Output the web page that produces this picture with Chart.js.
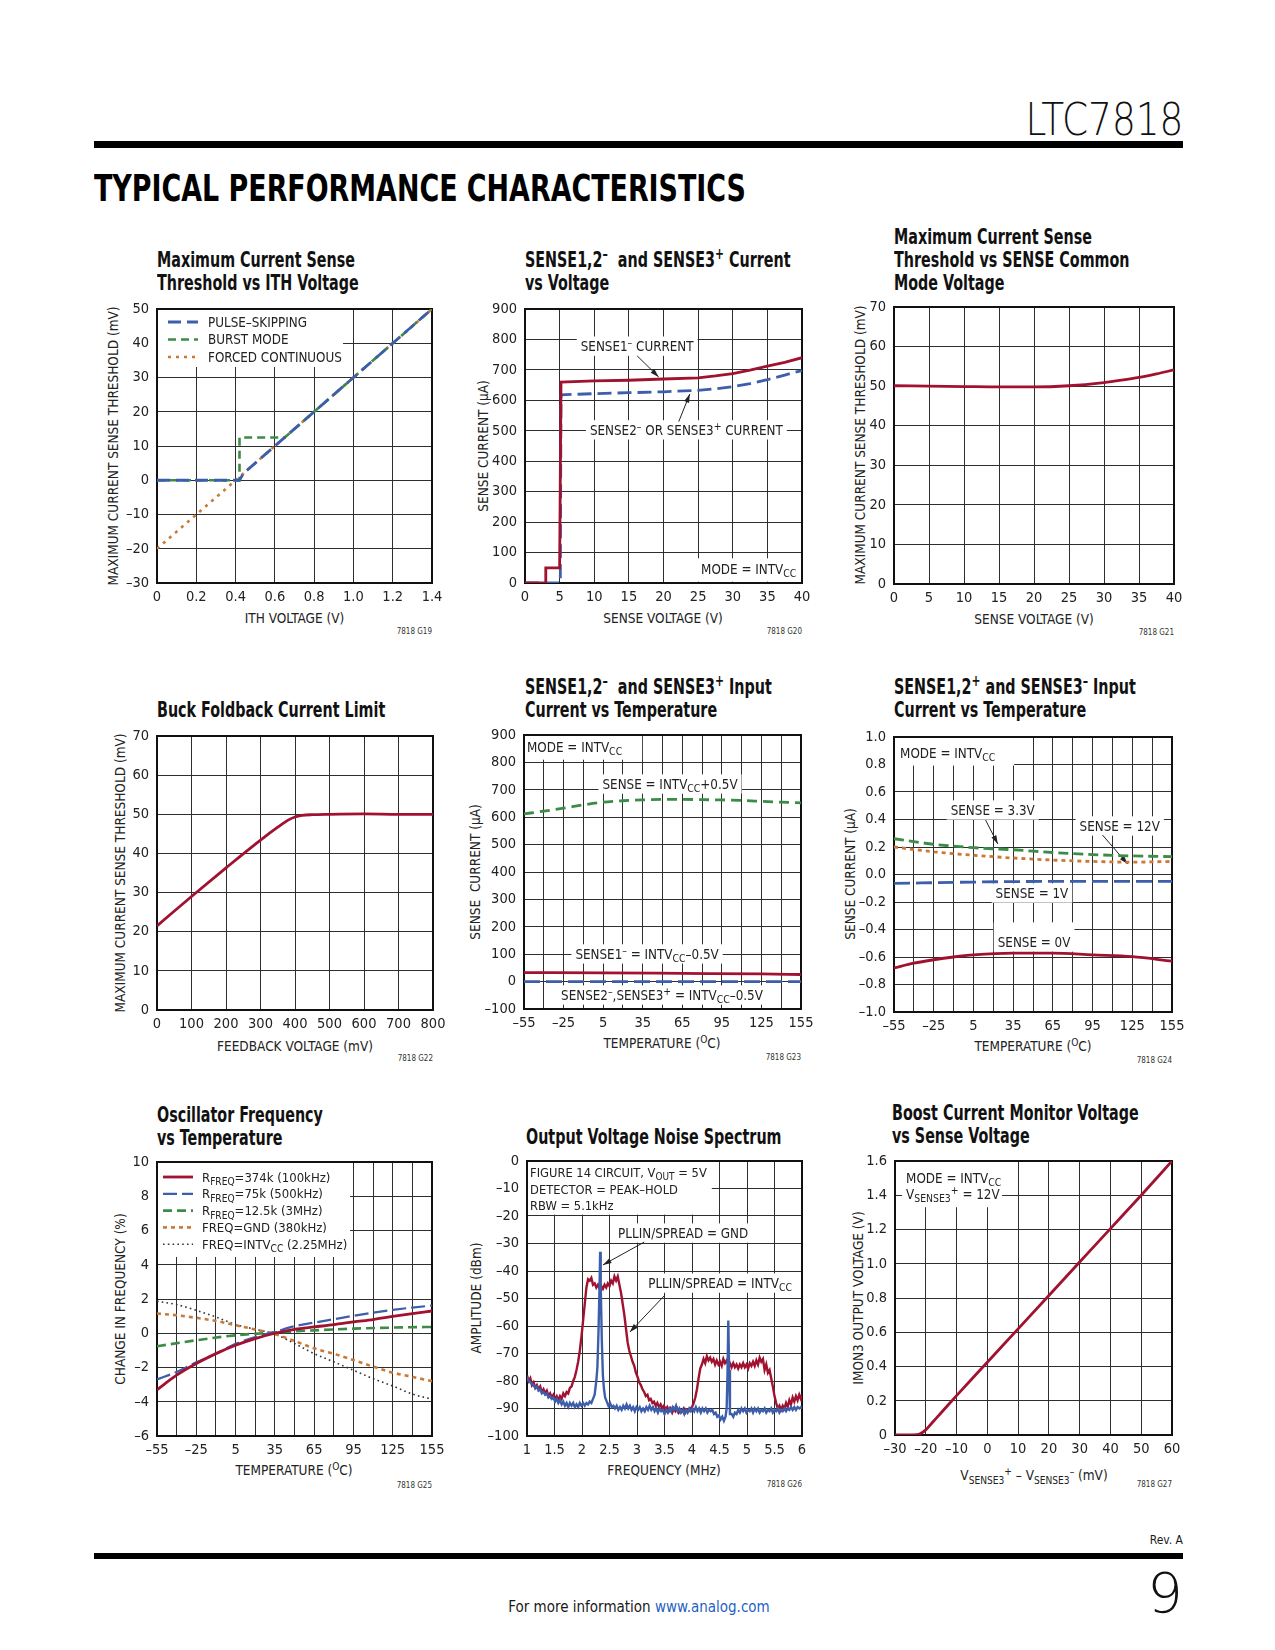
<!DOCTYPE html>
<html><head><meta charset="utf-8">
<script src="https://cdn.jsdelivr.net/npm/chart.js@4.4.0/dist/chart.umd.min.js"></script>
<style>
html,body{margin:0;padding:0;overflow:hidden;background:#fff;}
#page{position:relative;width:1275px;height:1650px;overflow:hidden;background:#fff;font-family:'Liberation Sans Narrow','Arial Narrow','DejaVu Sans Condensed',sans-serif;color:#1a1a1a;}
.abs{position:absolute;white-space:nowrap;}
canvas{position:absolute;}
.ct{font-weight:bold;font-size:20.5px;line-height:23px;color:#111;transform-origin:left top;}
sub,sup{font-size:75%;line-height:0;}
</style></head><body><div id="page"></div>
<script>
// ---------------- DATA ----------------
// Chart 1: Maximum Current Sense Threshold vs ITH Voltage
const c1XTicks=[0,0.2,0.4,0.6,0.8,1.0,1.2,1.4];
const c1YTicks=[-30,-20,-10,0,10,20,30,40,50];
const c1PulseX=[0,0.42,0.44,1.4];
const c1PulseY=[0,0,2,50];
const c1BurstX=[0,0.42,0.42,0.65,1.4];
const c1BurstY=[0,0,12.5,12.5,50];
const c1ForcedX=[0,1.4];
const c1ForcedY=[-20,50];

// Chart 2: SENSE current vs voltage
const c2XTicks=[0,5,10,15,20,25,30,35,40];
const c2YTicks=[0,100,200,300,400,500,600,700,800,900];
const c2RedX=[0,2.9,3,5,5.2,10,15,20,25,27.5,30,32.5,35,37.5,40];
const c2RedY=[0,0,50,50,660,664,666,670,674,680,688,699,712,725,740];
const c2BlueX=[0,5.1,5.2,10,15,20,25,27.5,30,32.5,35,37.5,40];
const c2BlueY=[0,0,618,622,625,628,633,638,645,655,668,683,698];

// Chart 3: threshold vs common mode
const c3XTicks=[0,5,10,15,20,25,30,35,40];
const c3YTicks=[0,10,20,30,40,50,60,70];
const c3X=[0,5,10,15,20,25,30,32.5,35,37.5,40];
const c3Y=[50.1,50,49.9,49.8,49.8,50.1,50.9,51.5,52.2,53.1,54.1];

// Chart 4: Buck foldback
const c4XTicks=[0,100,200,300,400,500,600,700,800];
const c4YTicks=[0,10,20,30,40,50,60,70];
const c4X=[0,100,200,300,350,380,400,420,450,500,600,700,800];
const c4Y=[21.5,29,36.3,43.4,46.7,48.5,49.3,49.7,49.9,50,50.1,50,50];

// Chart 5: SENSE- input current vs temperature
const tempTicks=[-55,-40,-25,-10,5,20,35,50,65,80,95,110,125,140,155];
const tempLabels=[-55,-25,5,35,65,95,125,155];
const c5YTicks=[-100,0,100,200,300,400,500,600,700,800,900];
const c5GreenX=[-55,-40,-25,-10,5,20,35,50,65,80,95,110,125,140,155];
const c5GreenY=[612,622,633,645,655,660,663,665,665,664,663,661,658,655,652];
const c5RedX=[-55,5,65,125,155];
const c5RedY=[33,32,30,28,26];
const c5BlueX=[-55,155];
const c5BlueY=[0,0];

// Chart 6: SENSE+ input current vs temperature
const c6YTicks=[-1,-0.8,-0.6,-0.4,-0.2,0,0.2,0.4,0.6,0.8,1.0];
const c6X=[-55,-25,5,35,65,95,125,155];
const c6Green=[0.26,0.22,0.195,0.18,0.16,0.145,0.135,0.13];
const c6Orange=[0.2,0.165,0.14,0.12,0.105,0.095,0.09,0.095];
const c6BlueX=[-55,5,65,155];
const c6Blue=[-0.065,-0.055,-0.05,-0.05];
const c6RedX=[-55,-40,-25,-10,5,35,65,95,125,155];
const c6Red=[-0.68,-0.645,-0.62,-0.6,-0.585,-0.572,-0.572,-0.585,-0.598,-0.63];

// Chart 7: oscillator frequency vs temperature
const c7YTicks=[-6,-4,-2,0,2,4,6,8,10];
const c7X=[-55,-40,-25,-10,5,20,35,50,65,80,95,110,125,140,155];
const c7R374=[-3.3,-2.45,-1.77,-1.19,-0.7,-0.31,0,0.23,0.37,0.5,0.66,0.8,0.98,1.15,1.3];
const c7R75=[-2.7,-2.26,-1.7,-1.19,-0.62,-0.22,0.08,0.41,0.62,0.82,1.02,1.2,1.36,1.5,1.62];
const c7GX=[-55,-25,5,35,65,95,125,155];
const c7R12=[-0.76,-0.41,-0.12,0.04,0.17,0.27,0.33,0.37];
const c7Gnd=[1.15,1.05,0.9,0.72,0.47,0.22,-0.05,-0.45,-0.88,-1.2,-1.56,-1.95,-2.3,-2.55,-2.8];
const c7Intv=[1.87,1.67,1.34,0.95,0.51,0.23,-0.05,-0.6,-1.19,-1.67,-2.16,-2.65,-3.08,-3.55,-3.85];

// Chart 8: output voltage noise spectrum [MHz, dBm]
const c8XTicks=[1,1.5,2,2.5,3,3.5,4,4.5,5,5.5,6];
const c8YTicks=[-100,-90,-80,-70,-60,-50,-40,-30,-20,-10,0];
const c8Spread=[[1.00,-78],[1.03,-80],[1.06,-79],[1.09,-81.5],[1.12,-80.5],[1.15,-82.5],[1.18,-81.5],[1.21,-83],[1.24,-82],[1.27,-84],[1.30,-83],[1.33,-84.5],[1.36,-83.5],[1.39,-85.5],[1.42,-84.5],[1.45,-86],[1.48,-85],[1.51,-86.5],[1.54,-85.5],[1.57,-87],[1.60,-85.5],[1.63,-86.5],[1.66,-84.5],[1.69,-85.5],[1.72,-84],[1.75,-84.5],[1.78,-82.5],[1.81,-82],[1.84,-80],[1.87,-78.5],[1.90,-76],[1.93,-73],[1.96,-69],[1.99,-64],[2.02,-58],[2.05,-52],[2.08,-46],[2.11,-43],[2.14,-43.5],[2.17,-42.5],[2.20,-45],[2.23,-44.5],[2.26,-46],[2.29,-45],[2.32,-46.5],[2.35,-45.5],[2.38,-46.5],[2.41,-45],[2.44,-46],[2.47,-44.5],[2.50,-45.5],[2.53,-43.5],[2.56,-44.5],[2.59,-42],[2.62,-43.5],[2.65,-42],[2.68,-45],[2.71,-48],[2.74,-52],[2.77,-56],[2.80,-61],[2.83,-66],[2.86,-69],[2.89,-71],[2.92,-73],[2.95,-74.5],[2.98,-77],[3.01,-78.5],[3.04,-80.5],[3.07,-81.5],[3.10,-83],[3.13,-84],[3.16,-85.5],[3.19,-85],[3.22,-87],[3.25,-86.5],[3.28,-88],[3.31,-87.5],[3.34,-89],[3.37,-88],[3.40,-89.5],[3.43,-88.5],[3.46,-90],[3.49,-89],[3.52,-90.5],[3.55,-89.5],[3.58,-91],[3.61,-90],[3.64,-91.5],[3.67,-90],[3.70,-91],[3.73,-90],[3.76,-91.5],[3.79,-90.5],[3.82,-91],[3.85,-90],[3.88,-91.5],[3.91,-90.5],[3.94,-91],[3.97,-90],[4.00,-89.5],[4.03,-88],[4.06,-86],[4.09,-83],[4.12,-79],[4.15,-75.5],[4.18,-74],[4.21,-72],[4.24,-73.5],[4.27,-71],[4.30,-72.5],[4.33,-71.5],[4.36,-73],[4.39,-72],[4.42,-74],[4.45,-72.5],[4.48,-74],[4.51,-73],[4.54,-74.5],[4.57,-72],[4.60,-73.5],[4.63,-72.5],[4.66,-74],[4.69,-73.5],[4.72,-75],[4.75,-73.5],[4.78,-75],[4.81,-74],[4.84,-75.5],[4.87,-74],[4.90,-75],[4.93,-73.5],[4.96,-75],[4.99,-74],[5.02,-75.5],[5.05,-73.5],[5.08,-74.5],[5.11,-73],[5.14,-74.5],[5.17,-72.5],[5.20,-74],[5.23,-71.5],[5.26,-73],[5.29,-72],[5.32,-76],[5.35,-74],[5.38,-77],[5.41,-76],[5.44,-79],[5.47,-82],[5.50,-85.5],[5.53,-88],[5.56,-90],[5.59,-89],[5.62,-90.5],[5.65,-89],[5.68,-90],[5.71,-88],[5.74,-89.5],[5.77,-87],[5.80,-88.5],[5.83,-86],[5.86,-87.5],[5.89,-85.5],[5.92,-87],[5.95,-85],[5.98,-86.5],[6.00,-85]];
const c8Gnd=[[1.00,-78.5],[1.03,-80],[1.06,-80.5],[1.09,-81],[1.12,-81.5],[1.15,-82.5],[1.18,-82],[1.21,-83.5],[1.24,-83],[1.27,-84.5],[1.30,-84],[1.33,-85],[1.36,-84.5],[1.39,-86],[1.42,-85.5],[1.45,-86.5],[1.48,-86],[1.51,-87.5],[1.54,-86.5],[1.57,-88],[1.60,-87],[1.63,-88.5],[1.66,-87.5],[1.69,-89],[1.72,-88],[1.75,-89.5],[1.78,-88],[1.81,-89],[1.84,-88],[1.87,-89.5],[1.90,-88.5],[1.93,-89.5],[1.96,-88],[1.99,-89],[2.02,-88],[2.05,-89],[2.08,-88],[2.11,-88.5],[2.14,-87.5],[2.17,-88],[2.20,-86.5],[2.23,-85],[2.26,-80],[2.28,-75],[2.30,-62],[2.32,-45],[2.33,-33],[2.34,-45],[2.36,-65],[2.38,-78],[2.40,-83],[2.42,-86],[2.45,-87.5],[2.48,-89],[2.51,-88],[2.54,-89.5],[2.57,-89],[2.60,-90],[2.63,-89],[2.66,-90.5],[2.69,-89.5],[2.72,-90.5],[2.75,-89],[2.78,-90],[2.81,-88.5],[2.84,-90],[2.87,-89],[2.90,-90.5],[2.93,-89.5],[2.96,-91],[2.99,-89.5],[3.02,-90.5],[3.05,-89.5],[3.08,-91],[3.11,-90],[3.14,-91],[3.17,-89.5],[3.20,-90.5],[3.23,-89],[3.26,-90.5],[3.29,-89.5],[3.32,-91],[3.35,-90],[3.38,-91.5],[3.41,-90],[3.44,-91],[3.47,-90.5],[3.50,-92],[3.53,-90.5],[3.56,-91.5],[3.59,-90],[3.62,-91],[3.65,-89.5],[3.68,-90.5],[3.71,-89],[3.74,-91],[3.77,-90],[3.80,-91.5],[3.83,-90.5],[3.86,-92],[3.89,-90.5],[3.92,-91.5],[3.95,-90],[3.98,-91],[4.01,-90],[4.04,-91],[4.07,-89.5],[4.10,-91],[4.13,-90],[4.16,-91.5],[4.19,-90],[4.22,-91],[4.25,-90],[4.28,-91.5],[4.31,-90.5],[4.34,-91],[4.37,-90.5],[4.40,-92],[4.43,-91.5],[4.46,-93],[4.49,-92.5],[4.52,-94],[4.55,-93],[4.58,-94.5],[4.61,-93],[4.63,-90],[4.645,-78],[4.66,-58],[4.675,-76],[4.69,-92],[4.72,-92],[4.75,-93],[4.78,-91.5],[4.81,-92],[4.84,-90.5],[4.87,-91.5],[4.90,-90],[4.93,-91],[4.96,-90],[4.99,-91.5],[5.02,-90.5],[5.05,-91],[5.08,-90],[5.11,-91.5],[5.14,-90],[5.17,-91],[5.20,-90],[5.23,-91.5],[5.26,-90.5],[5.29,-91],[5.32,-90],[5.35,-91.5],[5.38,-90.5],[5.41,-91],[5.44,-90],[5.47,-91.5],[5.50,-90.5],[5.53,-91],[5.56,-90],[5.59,-91.5],[5.62,-90.5],[5.65,-91],[5.68,-90],[5.71,-91],[5.74,-90],[5.77,-90.5],[5.80,-89.5],[5.83,-90.5],[5.86,-89.5],[5.89,-90.5],[5.92,-89.5],[5.95,-90],[5.98,-89.5],[6.00,-90]];

// Chart 9: boost current monitor
const c9XTicks=[-30,-20,-10,0,10,20,30,40,50,60];
const c9YTicks=[0,0.2,0.4,0.6,0.8,1.0,1.2,1.4,1.6];
const c9X=[-30,-24,-22,-20,-18,-15,-10,0,10,20,30,40,50,60];
const c9Y=[0,0,0.005,0.03,0.07,0.13,0.23,0.425,0.62,0.815,1.01,1.205,1.4,1.6];

// ---------------- RENDERING ----------------
const RED='#a0122f', BLUE='#3d5eab', GREEN='#3b8c47', ORANGE='#c97a38', DOT='#333';
const FAM="'Liberation Sans Narrow','Arial Narrow','DejaVu Sans Condensed',sans-serif";
const LBL=13.3;
Chart.defaults.font.family=FAM;
Chart.defaults.color='#222';
const page=document.getElementById('page');
const L=70,T=26,R=30,B=34;

function xy(xs,ys){return xs.map((x,i)=>({x:x,y:ys[i]}));}
function pairs(a){return a.map(p=>({x:p[0],y:p[1]}));}
function dash(v){return v<0?'–'+Math.abs(v):String(v);}

function segs(s){const out=[];let i=0,buf='';
  while(i<s.length){
    if((s[i]==='_'||s[i]==='^')&&s[i+1]==='{'){ if(buf){out.push({t:buf,m:0});buf='';}
      const j=s.indexOf('}',i); out.push({t:s.slice(i+2,j),m:s[i]==='_'?1:2}); i=j+1; }
    else {buf+=s[i];i++;}
  }
  if(buf)out.push({t:buf,m:0}); return out;}
function richWidth(ctx,s,size){let w=0;segs(s).forEach(g=>{ctx.font=(g.m?size*0.78:size)+'px '+FAM;w+=ctx.measureText(g.t).width;});return w;}
function drawRich(ctx,s,x,cy,size,color){
  ctx.fillStyle=color;ctx.textBaseline='alphabetic';ctx.textAlign='left';
  const base=cy+size*0.36;let cx=x;
  segs(s).forEach(g=>{const fs=g.m?size*0.78:size;ctx.font=fs+'px '+FAM;
    const by=g.m===1?base+size*0.26:g.m===2?base-size*0.38:base;
    ctx.fillText(g.t,cx,by);cx+=ctx.measureText(g.t).width;});
}

const decoPlugin={id:'deco',
  beforeDatasetsDraw(chart){
    const o=chart.config.options.plugins.deco; if(!o) return;
    const ctx=chart.ctx, xs=chart.scales.x, ys=chart.scales.y, ca=chart.chartArea;
    const X=v=>xs.getPixelForValue(v), Y=v=>ys.getPixelForValue(v);
    ctx.save();
    (o.boxes||[]).forEach(b=>{const x1=X(b.x1),x2=X(b.x2),y1=Y(b.y1),y2=Y(b.y2);
      ctx.fillStyle='#fff';ctx.fillRect(Math.min(x1,x2),Math.min(y1,y2),Math.abs(x2-x1),Math.abs(y2-y1));});
    (o.labels||[]).forEach(l=>{
      const size=l.size||LBL, px=X(l.x), py=Y(l.y), w=richWidth(ctx,l.text,size);
      const al=l.align||'center'; const x0=al==='center'?px-w/2:(al==='right'?px-w:px);
      if(!l.nobox){const p=l.pad||[4,4,3,3];ctx.fillStyle='#fff';
        ctx.fillRect(x0-p[0],py-size*0.5-p[2],w+p[0]+p[1],size+p[2]+p[3]);}
      drawRich(ctx,l.text,x0,py,size,'#222');
    });
    (o.arrows||[]).forEach(a=>{const x1=X(a.x1),y1=Y(a.y1),x2=X(a.x2),y2=Y(a.y2);
      ctx.strokeStyle='#222';ctx.lineWidth=1;ctx.setLineDash([]);
      ctx.beginPath();ctx.moveTo(x1,y1);ctx.lineTo(x2,y2);ctx.stroke();
      const ang=Math.atan2(y2-y1,x2-x1),hl=9,hw=0.3;ctx.fillStyle='#222';
      ctx.beginPath();ctx.moveTo(x2,y2);
      ctx.lineTo(x2-hl*Math.cos(ang-hw),y2-hl*Math.sin(ang-hw));
      ctx.lineTo(x2-hl*Math.cos(ang+hw),y2-hl*Math.sin(ang+hw));ctx.closePath();ctx.fill();});
    if(o.legend){const g=o.legend;ctx.fillStyle='#fff';ctx.fillRect(ca.left,ca.top,g.w,g.h);
      chart.data.datasets.forEach((d,i)=>{const y=ca.top+g.row0+i*g.rowH;
        ctx.strokeStyle=d.borderColor;ctx.lineWidth=d.borderWidth;ctx.setLineDash(d.borderDash||[]);ctx.lineCap='butt';
        ctx.beginPath();ctx.moveTo(ca.left+g.s1,y);ctx.lineTo(ca.left+g.s2,y);ctx.stroke();ctx.setLineDash([]);
        drawRich(ctx,d.label,ca.left+g.tx,y,g.size,'#222');});}
    ctx.strokeStyle='#111';ctx.lineWidth=2;ctx.setLineDash([]);
    ctx.strokeRect(ca.left,ca.top,ca.right-ca.left,ca.bottom-ca.top);
    ctx.restore();
  }};
Chart.register(decoPlugin);

function axisCfg(ticks,fmt,which){
  return {type:'linear',min:ticks[0],max:ticks[ticks.length-1],
    afterBuildTicks:s=>{s.ticks=ticks.map(v=>({value:v}));},
    afterFit:s=>{if(which==='x')s.height=B;else s.width=L;},
    ticks:{autoSkip:false,maxRotation:0,minRotation:0,padding:which==='x'?6:8,font:{size:14.5},color:'#222',callback:v=>fmt(v)},
    grid:{color:'#2e2e2e',lineWidth:1,drawTicks:false},
    border:{display:false}};
}
function makeChart(rect,xT,xF,yT,yF,datasets,deco){
  const cv=document.createElement('canvas');
  const w=rect.r-rect.l+L+R,h=rect.b-rect.t+T+B;
  cv.width=w;cv.height=h;cv.style.left=(rect.l-L)+'px';cv.style.top=(rect.t-T)+'px';
  cv.style.width=w+'px';cv.style.height=h+'px';page.appendChild(cv);
  new Chart(cv,{type:'line',data:{datasets:datasets},options:{
    responsive:false,animation:false,
    layout:{padding:{left:0,top:T,right:R,bottom:0}},
    elements:{point:{radius:0},line:{tension:0,borderCapStyle:'butt'}},
    plugins:{legend:{display:false},tooltip:{enabled:false},deco:deco||{}},
    scales:{x:axisCfg(xT,xF,'x'),y:axisCfg(yT,yF,'y')}}});
}
function put(html,x,cy,size,o){o=o||{};const d=document.createElement('div');d.className='abs';d.innerHTML=html;
  d.style.fontSize=size+'px';d.style.lineHeight=size+'px';
  if(o.cls)d.className+=' '+o.cls; if(o.style)Object.assign(d.style,o.style);
  page.appendChild(d);
  if(o.rot){d.style.left=x+'px';d.style.top=cy+'px';d.style.transform='translate(-50%,-50%) rotate(-90deg)';return d;}
  d.style.top=(cy-size/2)+'px';
  const a=o.align||'left';
  if(a==='left')d.style.left=x+'px';
  else if(a==='right')d.style.right=(1275-x)+'px';
  else {d.style.left=x+'px';d.style.transform='translateX(-50%)';}
  return d;}
// title font scale: reference width of "Maximum Current Sense" is ~198px
let TK=1;
(function(){const s=document.createElement('span');s.className='abs ct';s.textContent='Maximum Current Sense';s.style.visibility='hidden';page.appendChild(s);
  TK=198/s.getBoundingClientRect().width; page.removeChild(s);})();
function title(html,x,cy1){const d=document.createElement('div');d.className='abs ct';d.innerHTML=html;
  d.style.left=x+'px';d.style.top=(cy1-11.5)+'px';d.style.transform='scaleX('+TK+')';page.appendChild(d);}
function fitW(d,target,origin){const w=d.getBoundingClientRect().width;d.style.transformOrigin=origin;d.style.transform='scaleX('+(target/w)+')';}

// Page header / footer
const hdr=put('LTC7818',1183,120,44,{align:'right',style:{fontFamily:"'DejaVu Sans',sans-serif",fontWeight:'200',color:'#111'}});
fitW(hdr,158,'right center');
const bar1=document.createElement('div');bar1.className='abs';Object.assign(bar1.style,{left:'94px',top:'141px',width:'1089px',height:'7px',background:'#000'});page.appendChild(bar1);
const tpc=put('TYPICAL PERFORMANCE CHARACTERISTICS',94,188,38,{style:{fontFamily:"'DejaVu Sans Condensed','DejaVu Sans',sans-serif",fontStretch:'condensed',fontWeight:'bold',color:'#000'}});
fitW(tpc,652,'left center');
const bar2=document.createElement('div');bar2.className='abs';Object.assign(bar2.style,{left:'94px',top:'1553px',width:'1089px',height:'6px',background:'#000'});page.appendChild(bar2);
put('Rev. A',1183,1540,12,{align:'right'});
put('9',1183,1593,56,{align:'right',style:{fontFamily:"'DejaVu Sans',sans-serif",fontWeight:'200',color:'#111'}});
put('For more information <span style="color:#1f5fc4">www.analog.com</span>',639,1607,15,{align:'center'});

// Chart titles
title('Maximum Current Sense<br>Threshold vs ITH Voltage',157,260);
title('SENSE1,2<sup>–</sup>&nbsp; and SENSE3<sup>+</sup> Current<br>vs Voltage',525,260);
title('Maximum Current Sense<br>Threshold vs SENSE Common<br>Mode Voltage',894,237);
title('Buck Foldback Current Limit',157,710);
title('SENSE1,2<sup>–</sup>&nbsp; and SENSE3<sup>+</sup> Input<br>Current vs Temperature',525,687);
title('SENSE1,2<sup>+</sup> and SENSE3<sup>–</sup> Input<br>Current vs Temperature',894,687);
title('Oscillator Frequency<br>vs Temperature',157,1115);
title('Output Voltage Noise Spectrum',526,1137);
title('Boost Current Monitor Voltage<br>vs Sense Voltage',892,1113);

// Axis titles
const AT=13.5;
[['ITH VOLTAGE (V)',294.5,619],['SENSE VOLTAGE (V)',663,619],['SENSE VOLTAGE (V)',1034,620],
 ['FEEDBACK VOLTAGE (mV)',295,1047],['TEMPERATURE (<sup>O</sup>C)',662,1044],['TEMPERATURE (<sup>O</sup>C)',1033,1047],
 ['TEMPERATURE (<sup>O</sup>C)',294,1471],['FREQUENCY (MHz)',664,1471],
 ['V<sub>SENSE3</sub><sup>+</sup> – V<sub>SENSE3</sub><sup>–</sup> (mV)',1034,1476]
].forEach(a=>put(a[0],a[1],a[2],AT,{align:'center',style:{color:'#222'}}));
[['MAXIMUM CURRENT SENSE THRESHOLD (mV)',114,446],['SENSE CURRENT (µA)',484,446],['MAXIMUM CURRENT SENSE THRESHOLD (mV)',861,445],
 ['MAXIMUM CURRENT SENSE THRESHOLD (mV)',121,873],['SENSE&nbsp; CURRENT (µA)',476,872],['SENSE CURRENT (µA)',851,874],
 ['CHANGE IN FREQUENCY (%)',121,1299],['AMPLITUDE (dBm)',477,1298],['IMON3 OUTPUT VOLTAGE (V)',859,1298]
].forEach(a=>put(a[0],a[1],a[2],AT,{rot:true,style:{color:'#222'}}));
// figure codes
[['7818 G19',432,632],['7818 G20',802,632],['7818 G21',1174,633],['7818 G22',433,1059],['7818 G23',801,1058],['7818 G24',1172,1061],
 ['7818 G25',432,1486],['7818 G26',802,1485],['7818 G27',1172,1485]].forEach(a=>put(a[0],a[1],a[2],8,{align:'right',style:{color:'#333'}}));

const f1=v=>v===0?'0':v.toFixed(1);
const fInt=v=>dash(v);
const fTemp=v=>tempLabels.includes(v)?dash(v):'';
const f6y=v=>(v<-0.001?'–':'')+Math.abs(v).toFixed(1);
const f8x=v=>String(v);
const f9y=v=>v===0?'0':v.toFixed(1);

// Chart 1
makeChart({l:157,t:309,r:432,b:583},c1XTicks,f1,c1YTicks,fInt,[
  {label:'PULSE–SKIPPING',data:xy(c1PulseX,c1PulseY),borderColor:BLUE,borderWidth:2.8,borderDash:[13,6]},
  {label:'BURST MODE',data:xy(c1BurstX,c1BurstY),borderColor:GREEN,borderWidth:2.6,borderDash:[8,5]},
  {label:'FORCED CONTINUOUS',data:xy(c1ForcedX,c1ForcedY),borderColor:ORANGE,borderWidth:2.6,borderDash:[3,5]}
],{legend:{w:186,h:58,row0:13,rowH:17.5,s1:11,s2:41,tx:51,size:13.3}});

// Chart 2
makeChart({l:525,t:309,r:802,b:583},c2XTicks,fInt,c2YTicks,fInt,[
  {label:'SENSE1',data:xy(c2RedX,c2RedY),borderColor:RED,borderWidth:2.8},
  {label:'SENSE2',data:xy(c2BlueX,c2BlueY),borderColor:BLUE,borderWidth:2.8,borderDash:[14,6]}
],{labels:[
  {x:16.2,y:778,text:'SENSE1^{–} CURRENT'},
  {x:23.3,y:503,text:'SENSE2^{–} OR SENSE3^{+} CURRENT'},
  {x:32.3,y:46,text:'MODE = INTV_{CC}',pad:[4,4,4,6]}],
 arrows:[{x1:16.2,y1:746,x2:19.3,y2:677},{x1:22.2,y1:530,x2:23.8,y2:621}]});

// Chart 3
makeChart({l:894,t:307,r:1174,b:584},c3XTicks,fInt,c3YTicks,fInt,[
  {label:'TH',data:xy(c3X,c3Y),borderColor:RED,borderWidth:2.8,cubicInterpolationMode:'monotone'}
],{});

// Chart 4
makeChart({l:157,t:736,r:433,b:1010},c4XTicks,fInt,c4YTicks,fInt,[
  {label:'FB',data:xy(c4X,c4Y),borderColor:RED,borderWidth:2.8,cubicInterpolationMode:'monotone'}
],{});

// Chart 5
makeChart({l:524,t:735,r:801,b:1009},tempTicks,fTemp,c5YTicks,fInt,[
  {label:'G',data:xy(c5GreenX,c5GreenY),borderColor:GREEN,borderWidth:2.8,borderDash:[10,6],cubicInterpolationMode:'monotone'},
  {label:'R',data:xy(c5RedX,c5RedY),borderColor:RED,borderWidth:2.8,cubicInterpolationMode:'monotone'},
  {label:'B',data:xy(c5BlueX,c5BlueY),borderColor:BLUE,borderWidth:2.8,borderDash:[16,6]}
],{labels:[
  {x:-52.7,y:856,text:'MODE = INTV_{CC}',align:'left',pad:[3,20,5,6]},
  {x:55.7,y:721,text:'SENSE = INTV_{CC}+0.5V'},
  {x:38.3,y:101,text:'SENSE1^{–} = INTV_{CC}–0.5V'},
  {x:49.6,y:-49,text:'SENSE2^{–},SENSE3^{+} = INTV_{CC}–0.5V'}]});

// Chart 6
makeChart({l:894,t:737,r:1172,b:1012},tempTicks,fTemp,c6YTicks,f6y,[
  {label:'3.3V',data:xy(c6X,c6Green),borderColor:GREEN,borderWidth:2.8,borderDash:[10,5],cubicInterpolationMode:'monotone'},
  {label:'12V',data:xy(c6X,c6Orange),borderColor:ORANGE,borderWidth:2.8,borderDash:[4,4],cubicInterpolationMode:'monotone'},
  {label:'1V',data:xy(c6BlueX,c6Blue),borderColor:BLUE,borderWidth:2.8,borderDash:[16,6],cubicInterpolationMode:'monotone'},
  {label:'0V',data:xy(c6RedX,c6Red),borderColor:RED,borderWidth:2.8,cubicInterpolationMode:'monotone'}
],{labels:[
  {x:-50.4,y:0.884,text:'MODE = INTV_{CC}',align:'left',pad:[6,19,9,6]},
  {x:19.6,y:0.469,text:'SENSE = 3.3V'},
  {x:115.5,y:0.353,text:'SENSE = 12V'},
  {x:49.2,y:-0.135,text:'SENSE = 1V'},
  {x:50.8,y:-0.491,text:'SENSE = 0V',pad:[4,4,13,3]}],
 arrows:[{x1:14.2,y1:0.396,x2:23.4,y2:0.222},{x1:102.5,y1:0.287,x2:121.5,y2:0.076}]});

// Chart 7
makeChart({l:157,t:1162,r:432,b:1436},tempTicks,fTemp,c7YTicks,fInt,[
  {label:'R_{FREQ}=374k (100kHz)',data:xy(c7X,c7R374),borderColor:RED,borderWidth:2.8,cubicInterpolationMode:'monotone'},
  {label:'R_{FREQ}=75k (500kHz)',data:xy(c7X,c7R75),borderColor:BLUE,borderWidth:2.2,borderDash:[14,5],cubicInterpolationMode:'monotone'},
  {label:'R_{FREQ}=12.5k (3MHz)',data:xy(c7GX,c7R12),borderColor:GREEN,borderWidth:2.6,borderDash:[9,5],cubicInterpolationMode:'monotone'},
  {label:'FREQ=GND (380kHz)',data:xy(c7X,c7Gnd),borderColor:ORANGE,borderWidth:2.6,borderDash:[4,4],cubicInterpolationMode:'monotone'},
  {label:'FREQ=INTV_{CC} (2.25MHz)',data:xy(c7X,c7Intv),borderColor:DOT,borderWidth:1.6,borderDash:[1.6,3.2],cubicInterpolationMode:'monotone'}
],{legend:{w:193,h:95,row0:15,rowH:16.8,s1:6,s2:36,tx:45,size:13}});

// Chart 8
makeChart({l:527,t:1161,r:802,b:1436},c8XTicks,f8x,c8YTicks,fInt,[
  {label:'GND',data:pairs(c8Gnd),borderColor:BLUE,borderWidth:2.4},
  {label:'INTVCC',data:pairs(c8Spread),borderColor:RED,borderWidth:2.4}
],{boxes:[{x1:1,y1:0,x2:4.36,y2:-19.5}],
 labels:[
  {x:1.055,y:-4,text:'FIGURE 14 CIRCUIT, V_{OUT} = 5V',align:'left',nobox:true,size:12.8},
  {x:1.055,y:-10.2,text:'DETECTOR = PEAK–HOLD',align:'left',nobox:true,size:12.8},
  {x:1.055,y:-16,text:'RBW = 5.1kHz',align:'left',nobox:true,size:12.8},
  {x:3.84,y:-26.2,text:'PLLIN/SPREAD = GND'},
  {x:4.51,y:-44.4,text:'PLLIN/SPREAD = INTV_{CC}'}],
 arrows:[{x1:3.13,y1:-29.5,x2:2.38,y2:-37.8},{x1:3.51,y1:-48.7,x2:2.87,y2:-62.2}]});

// Chart 9
makeChart({l:895,t:1161,r:1172,b:1435},c9XTicks,fInt,c9YTicks,f9y,[
  {label:'IMON3',data:xy(c9X,c9Y),borderColor:RED,borderWidth:2.8,cubicInterpolationMode:'monotone'}
],{boxes:[{x1:-27.7,y1:1.6,x2:4.8,y2:1.33}],
 labels:[
  {x:-26.4,y:1.50,text:'MODE = INTV_{CC}',align:'left',nobox:true},
  {x:-26.4,y:1.407,text:'V_{SENSE3}^{+} = 12V',align:'left',nobox:true}]});
</script></body></html>
